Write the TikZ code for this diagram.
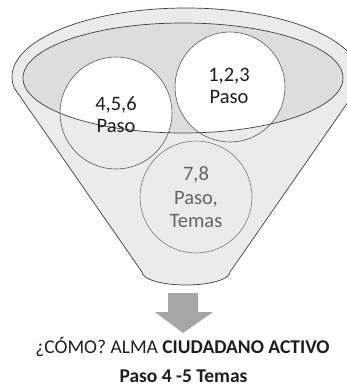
\documentclass[tikz,border=0pt]{standalone}
\usepackage{fontspec}
\setmainfont{Carlito}
\usetikzlibrary{calc}
\definecolor{funnelgray}{HTML}{EBEBEB}
\definecolor{innergray}{HTML}{DDDDDD}
\definecolor{edgegray}{HTML}{404040}
\definecolor{circgray}{HTML}{5A5A5A}
\definecolor{circlight}{HTML}{7A7A7A}
\definecolor{textgray}{HTML}{666666}
\definecolor{arrowgray}{HTML}{A6A6A6}
\definecolor{darktext}{HTML}{1E1E1E}
\tikzset{
  funnelshape/.style={fill=funnelgray, draw=edgegray, line width=0.7pt},
  innershape/.style={fill=innergray},
  innerline/.style={draw=edgegray, line width=0.7pt},
  ringA/.style={circle, draw=circgray, line width=0.6pt, minimum size=112pt, inner sep=0pt},
  ringB/.style={circle, draw=circlight, line width=0.6pt, minimum size=112pt, inner sep=0pt},
  ringtext/.style={font=\fontsize{20.5}{22.5}\selectfont, align=center, inner sep=0pt, anchor=north, text=darktext},
  ringtextB/.style={font=\fontsize{20.5}{23.5}\selectfont, align=center, inner sep=0pt, anchor=north, text=textgray},
  captiontext/.style={font=\fontsize{19.5}{22}\selectfont, inner sep=0pt, anchor=base, text=darktext},
  blockarrow/.style={fill=arrowgray},
}
\begin{document}
\begin{tikzpicture}[x=1pt, y=-1pt]
\useasboundingbox (0,0) rectangle (347,386);
\begin{scope}
\clip (0,0) rectangle (347,386);
% funnel body
\draw[funnelshape] (142,272) -- ($(186,77)+(170.8:174 and 69)$)
  arc[start angle=170.8, end angle=369.2, x radius=174, y radius=69]
  -- (230,272) arc[start angle=0, end angle=180, x radius=44, y radius=13] -- cycle;
% inner ellipse fill
\fill[innershape] (183,78) ellipse [x radius=160, y radius=55];
% white parts of circles inside the ellipse
\begin{scope}
\clip (183,78) ellipse [x radius=160, y radius=55];
\fill[white] (116,113) circle[radius=56];
\fill[white] (230,87) circle[radius=55];
\end{scope}
% circles
\node[ringA] (c456) at (116,113) {};
\node[ringA, minimum size=110pt] (c123) at (230,87) {};
\node[ringB] (c78) at (196,197) {};
% inner ellipse outline
\draw[innerline] (183,78) ellipse [x radius=160, y radius=55];
\end{scope}
% texts
\node[ringtext] (t123) at (229,67.5) {1,2,3\\Paso};
\node[ringtext] (t456) at (116,96) {4,5,6\\Paso};
\node[ringtextB] (t78) at (196,166.5) {7,8\\Paso,\\Temas};
% arrow
\fill[blockarrow] (168,293) -- (198,293) -- (198,312) -- (213,312) -- (183,333)
  -- (155,312) -- (168,312) -- cycle;
% caption
\node[captiontext] (cap1) at (182.5,353) {¿CÓMO? ALMA \textbf{CIUDADANO ACTIVO}};
\node[captiontext] (cap2) at (183.5,382) {\textbf{Paso 4 -5 Temas}};
\end{tikzpicture}
\end{document}
